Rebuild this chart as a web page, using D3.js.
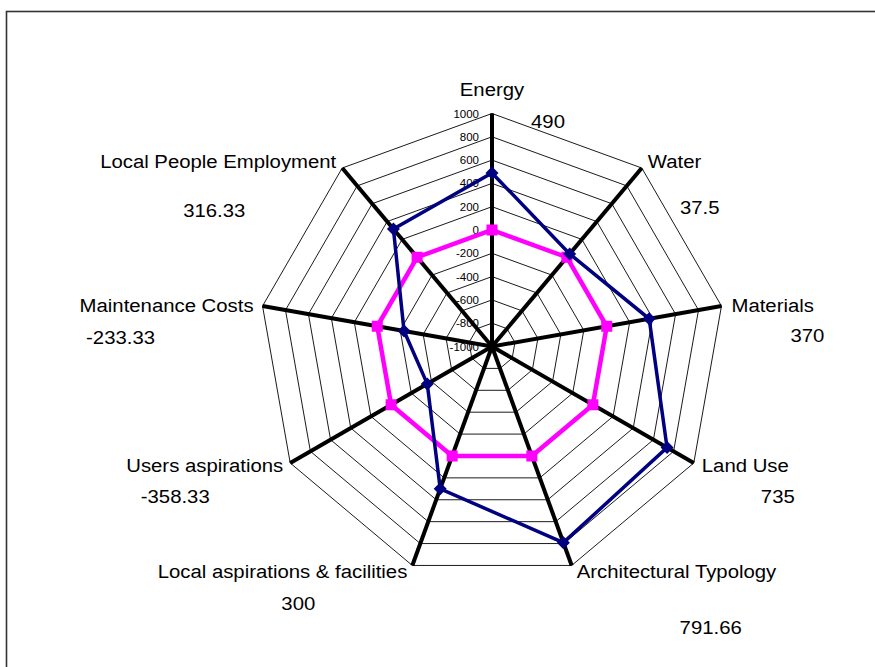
<!DOCTYPE html>
<html>
<head>
<meta charset="utf-8">
<script src="https://cdn.jsdelivr.net/npm/d3@7"></script>
<style>
  body { margin: 0; background: #fff; }
  text { font-family: "Liberation Sans", Arial, sans-serif; }
</style>
</head>
<body>
<div id="chart"></div>
<script>
// chart data
let categories = ["Energy", "Water", "Materials", "Land Use", "Architectural Typology",
    "Local aspirations & facilities", "Users aspirations", "Maintenance Costs", "Local People Employment"];
let scores = [490, 37.5, 370, 735, 791.66, 300, -358.33, -233.33, 316.33];
let baseline = [0, 0, 0, 0, 0, 0, 0, 0, 0];
let valueLabels = ["490", "37.5", "370", "735", "791.66", "300", "-358.33", "-233.33", "316.33"];
let tickValues = [-1000, -800, -600, -400, -200, 0, 200, 400, 600, 800, 1000];

let svgWidth = 875;
let svgHeight = 667;
let cx = 492, cy = 346.5, R = 233;
let stretch = 1.13; // the labels in the original are a little wider than Arial

// label placement (dx, dy from axis end, anchor) for the category and value texts
let catPos = [[0, -24, "middle"], [6, -6, "start"], [10, 0, "start"], [8, 3, "start"], [5, 6, "start"],
    [-5, 6, "end"], [-7, 3, "end"], [-9, 0, "end"], [-6, -6, "end"]];
let valPos = [[56, 8, "middle"], [58, 40, "middle"], [86, 30, "middle"], [84, 34, "middle"], [139, 62, "middle"],
    [-114, 38, "middle"], [-115, 34, "middle"], [-142, 32, "middle"], [-128, 43, "middle"]];

let svg = d3.select("#chart")
    .append("svg")
    .attr("width", svgWidth)
    .attr("height", svgHeight);

// outer frame
svg.append("rect")
    .attr("x", 6.5).attr("y", 11.5)
    .attr("width", 900).attr("height", 700)
    .attr("fill", "none")
    .attr("stroke", "#333")
    .attr("stroke-width", 1.6);

let rScale = d3.scaleLinear()
    .domain([-1000, 1000])
    .range([0, R]);

let n = categories.length;
let angle = i => i * 2 * Math.PI / n;
let pt = (i, v) => [cx + rScale(v) * Math.sin(angle(i)), cy - rScale(v) * Math.cos(angle(i))];

let g = svg.append("g");

// grid rings
g.selectAll(".ring")
    .data(tickValues.slice(1))
    .enter()
    .append("polygon")
    .attr("points", v => categories.map((c, i) => pt(i, v).join(",")).join(" "))
    .attr("fill", "none")
    .attr("stroke", "#000")
    .attr("stroke-width", 0.9);

// axes
g.selectAll(".axis")
    .data(categories)
    .enter()
    .append("line")
    .attr("x1", cx).attr("y1", cy)
    .attr("x2", (d, i) => pt(i, 1000)[0])
    .attr("y2", (d, i) => pt(i, 1000)[1])
    .attr("stroke", "#000")
    .attr("stroke-width", 4);

// tick labels along the Energy axis
g.selectAll(".tick")
    .data(tickValues)
    .enter()
    .append("text")
    .attr("x", cx - 13)
    .attr("y", d => cy - rScale(d))
    .attr("dy", "0.35em")
    .attr("text-anchor", "end")
    .attr("font-size", "11.5px")
    .text(d => d);

let line = d3.line().curve(d3.curveLinearClosed);

// baseline series (magenta)
g.append("path")
    .attr("d", line(baseline.map((v, i) => pt(i, v))))
    .attr("fill", "none")
    .attr("stroke", "#ff00ff")
    .attr("stroke-width", 4.5);

g.selectAll(".sq")
    .data(baseline)
    .enter()
    .append("rect")
    .attr("x", (d, i) => pt(i, d)[0] - 5.5)
    .attr("y", (d, i) => pt(i, d)[1] - 5.5)
    .attr("width", 11).attr("height", 11)
    .attr("fill", "#ff00ff");

// score series (navy)
g.append("path")
    .attr("d", line(scores.map((v, i) => pt(i, v))))
    .attr("fill", "none")
    .attr("stroke", "#000080")
    .attr("stroke-width", 3.5);

g.selectAll(".dia")
    .data(scores)
    .enter()
    .append("path")
    .attr("d", "M0,-6.5L6.5,0L0,6.5L-6.5,0Z")
    .attr("transform", (d, i) => `translate(${pt(i, d)[0]}, ${pt(i, d)[1]})`)
    .attr("fill", "#000080");

// category labels
g.selectAll(".cat")
    .data(categories)
    .enter()
    .append("text")
    .attr("transform", (d, i) =>
        `translate(${pt(i, 1000)[0] + catPos[i][0]}, ${pt(i, 1000)[1] + catPos[i][1]}) scale(${stretch}, 1)`)
    .attr("dy", "0.35em")
    .attr("text-anchor", (d, i) => catPos[i][2])
    .attr("font-size", "18px")
    .text(d => d);

// value labels
g.selectAll(".val")
    .data(valueLabels)
    .enter()
    .append("text")
    .attr("transform", (d, i) =>
        `translate(${pt(i, 1000)[0] + valPos[i][0]}, ${pt(i, 1000)[1] + valPos[i][1]}) scale(${stretch}, 1)`)
    .attr("dy", "0.35em")
    .attr("text-anchor", (d, i) => valPos[i][2])
    .attr("font-size", "18px")
    .text(d => d);
</script>
</body>
</html>
